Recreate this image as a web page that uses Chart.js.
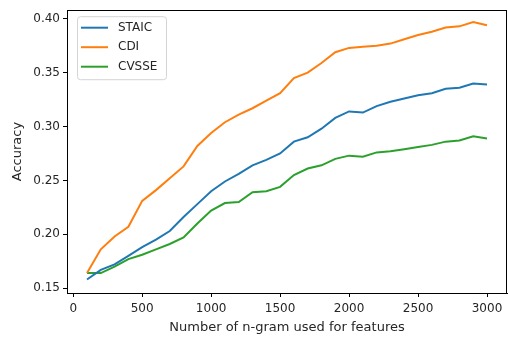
<!DOCTYPE html>
<html>
<head>
<meta charset="utf-8">
<script src="https://cdn.jsdelivr.net/npm/chart.js@4/dist/chart.umd.min.js"></script>
<style>
  html, body { margin: 0; padding: 0; background: #fff; }
  #wrap { width: 508px; height: 339px; }
</style>
</head>
<body>
<div id="wrap"><canvas id="accChart"></canvas></div>
<script>
// n-gram counts used as features
const ngrams = [100, 200, 300, 400, 500, 600, 700, 800, 900, 1000,
                1100, 1200, 1300, 1400, 1500, 1600, 1700, 1800, 1900, 2000,
                2100, 2200, 2300, 2400, 2500, 2600, 2700, 2800, 2900, 3000];

const staic = [0.158, 0.167, 0.172, 0.180, 0.188, 0.195, 0.203, 0.216, 0.228, 0.240,
               0.249, 0.256, 0.264, 0.269, 0.275, 0.286, 0.290, 0.298, 0.308, 0.314,
               0.313, 0.319, 0.323, 0.326, 0.329, 0.331, 0.335, 0.336, 0.340, 0.339];

const cdi = [0.164, 0.186, 0.198, 0.207, 0.231, 0.241, 0.252, 0.263, 0.282, 0.294,
             0.304, 0.311, 0.317, 0.324, 0.331, 0.345, 0.350, 0.359, 0.369, 0.373,
             0.374, 0.375, 0.377, 0.381, 0.385, 0.388, 0.392, 0.393, 0.397, 0.394];

const cvsse = [0.164, 0.164, 0.170, 0.177, 0.181, 0.186, 0.191, 0.197, 0.210, 0.222,
               0.229, 0.230, 0.239, 0.240, 0.244, 0.255, 0.261, 0.264, 0.270, 0.273,
               0.272, 0.276, 0.277, 0.279, 0.281, 0.283, 0.286, 0.287, 0.291, 0.289];

const xTicks = [0, 500, 1000, 1500, 2000, 2500, 3000];
const yTicks = [0.15, 0.20, 0.25, 0.30, 0.35, 0.40];

const FONT = "'DejaVu Sans', sans-serif";
const INK = '#262626';

function pts(ys) {
  return ngrams.map((x, i) => ({ x: x, y: ys[i] }));
}

// full box around the axes plus the framed legend in the upper left
const frameAndLegend = {
  id: 'frameAndLegend',
  afterDraw(chart) {
    const ctx = chart.ctx;
    const a = chart.chartArea;
    ctx.save();
    ctx.strokeStyle = '#000';
    ctx.lineWidth = 1;
    ctx.strokeRect(Math.round(a.left) + 0.5, Math.round(a.top) + 0.5,
                   Math.round(a.right - a.left) - 1, Math.round(a.bottom - a.top));

    const bx = a.left + 10, by = a.top + 6, bw = 89, bh = 63;
    ctx.fillStyle = 'rgba(255,255,255,0.8)';
    ctx.strokeStyle = '#d4d4d4';
    ctx.beginPath();
    ctx.roundRect(bx + 0.5, by + 0.5, bw, bh, 3);
    ctx.fill();
    ctx.stroke();

    ctx.font = '12px ' + FONT;
    ctx.textBaseline = 'middle';
    chart.data.datasets.forEach((ds, i) => {
      const y = by + 11.5 + i * 19.5;
      ctx.strokeStyle = ds.borderColor;
      ctx.lineWidth = 2;
      ctx.beginPath();
      ctx.moveTo(bx + 4, y);
      ctx.lineTo(bx + 31, y);
      ctx.stroke();
      ctx.fillStyle = INK;
      ctx.fillText(ds.label, bx + 41, y);
    });
    ctx.restore();
  }
};

new Chart(document.getElementById('accChart'), {
  type: 'line',
  data: {
    datasets: [
      { label: 'STAIC', data: pts(staic), borderColor: '#1f77b4' },
      { label: 'CDI', data: pts(cdi), borderColor: '#ff7f0e' },
      { label: 'CVSSE', data: pts(cvsse), borderColor: '#2ca02c' }
    ]
  },
  options: {
    responsive: true,
    maintainAspectRatio: false,
    animation: false,
    layout: { padding: { left: 0, right: 1, top: 7, bottom: 0 } },
    elements: {
      line: { borderWidth: 2, tension: 0, fill: false },
      point: { radius: 0 }
    },
    plugins: {
      legend: { display: false },
      tooltip: { enabled: false }
    },
    scales: {
      x: {
        type: 'linear',
        min: -45,
        max: 3145,
        afterBuildTicks: ax => { ax.ticks = xTicks.map(v => ({ value: v })); },
        afterFit: ax => { ax.height = 46; },
        ticks: {
          color: INK,
          font: { family: FONT, size: 12 },
          padding: 5,
          maxRotation: 0,
          callback: v => String(v)
        },
        grid: { drawOnChartArea: false, drawTicks: true, tickLength: 4, color: '#000' },
        border: { display: true, color: '#000' },
        title: {
          display: true,
          text: 'Number of n-gram used for features',
          color: INK,
          font: { family: FONT, size: 13 },
          padding: { top: 0, bottom: 4 }
        }
      },
      y: {
        min: 0.1455,
        max: 0.408,
        afterBuildTicks: ax => { ax.ticks = yTicks.map(v => ({ value: v })); },
        afterFit: ax => { ax.width = 67; },
        ticks: {
          color: INK,
          font: { family: FONT, size: 12 },
          padding: 3,
          callback: v => v.toFixed(2)
        },
        grid: { drawOnChartArea: false, drawTicks: true, tickLength: 4, color: '#000' },
        border: { display: true, color: '#000' },
        title: {
          display: true,
          text: 'Accuracy',
          color: INK,
          font: { family: FONT, size: 13 },
          padding: { top: 10, bottom: 4 }
        }
      }
    }
  },
  plugins: [frameAndLegend]
});
</script>
</body>
</html>
